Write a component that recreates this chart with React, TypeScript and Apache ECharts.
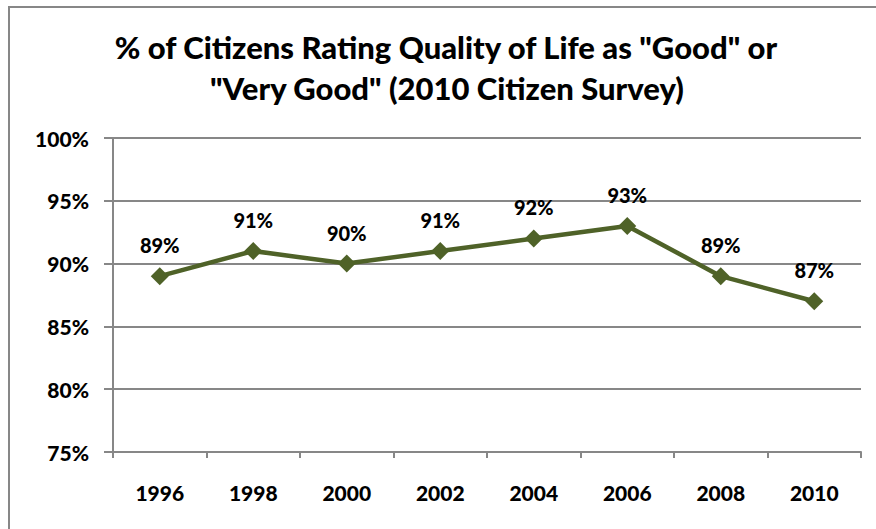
import React, { useEffect, useRef } from "react";
import * as echarts from "echarts";

const years = ["1996", "1998", "2000", "2002", "2004", "2006", "2008", "2010"];
const ratings = [89, 91, 90, 91, 92, 93, 89, 87];
const titleLines = [
  '% of Citizens Rating Quality of Life as "Good" or',
  '"Very Good" (2010 Citizen Survey)',
];

const FONT = "Lato";
const WEIGHT = 900;
const GRAY = "#878787";
const LINE = "#4F6228";

export default function App() {
  const ref = useRef<HTMLDivElement>(null);
  useEffect(() => {
    if (!ref.current) return;
    const chart = echarts.init(ref.current, null, { renderer: "svg" });
    chart.setOption({
      animation: false,
      backgroundColor: "#ffffff",
      graphic: [
        {
          type: "polyline",
          shape: { points: [[9, 529], [9, 7], [876, 7]] },
          style: { stroke: GRAY, lineWidth: 2, fill: "none" },
          silent: true,
        },
        {
          type: "text",
          x: 446,
          y: 47,
          style: {
            text: titleLines[0],
            font: `${WEIGHT} 31px ${FONT}`,
            fill: "#000",
            textAlign: "center",
            textVerticalAlign: "middle",
          },
        },
        {
          type: "text",
          x: 447,
          y: 88,
          style: {
            text: titleLines[1],
            font: `${WEIGHT} 31px ${FONT}`,
            fill: "#000",
            textAlign: "center",
            textVerticalAlign: "middle",
          },
        },
      ],
      grid: { left: 113, right: 15, top: 138, bottom: 77, containLabel: false },
      xAxis: {
        type: "category",
        data: years,
        boundaryGap: true,
        axisLine: { show: true, lineStyle: { color: GRAY, width: 2 } },
        axisTick: { show: true, length: 6, alignWithLabel: false, lineStyle: { color: GRAY, width: 2 } },
        axisLabel: {
          color: "#000",
          fontFamily: FONT,
          fontWeight: WEIGHT,
          fontSize: 21,
          margin: 30,
        },
        splitLine: { show: false },
      },
      yAxis: {
        type: "value",
        min: 75,
        max: 100,
        interval: 5,
        axisLine: { show: true, lineStyle: { color: GRAY, width: 2 } },
        axisTick: { show: true, length: 9, lineStyle: { color: GRAY, width: 2 } },
        axisLabel: {
          formatter: "{value}%",
          color: "#000",
          fontFamily: FONT,
          fontWeight: WEIGHT,
          fontSize: 21,
          margin: 24,
        },
        splitLine: { show: true, lineStyle: { color: GRAY, width: 2 } },
      },
      series: [
        {
          type: "line",
          data: ratings,
          symbol: "diamond",
          symbolSize: 18,
          itemStyle: { color: LINE },
          lineStyle: { color: LINE, width: 4.5 },
          label: {
            show: true,
            position: "top",
            distance: 12,
            formatter: "{c}%",
            color: "#000",
            fontFamily: FONT,
            fontWeight: WEIGHT,
            fontSize: 20,
          },
        },
      ],
    });
    return () => chart.dispose();
  }, []);
  return (
    <div
      ref={ref}
      style={{ position: "fixed", left: 0, top: 0, width: 876, height: 529, background: "#fff" }}
    />
  );
}
